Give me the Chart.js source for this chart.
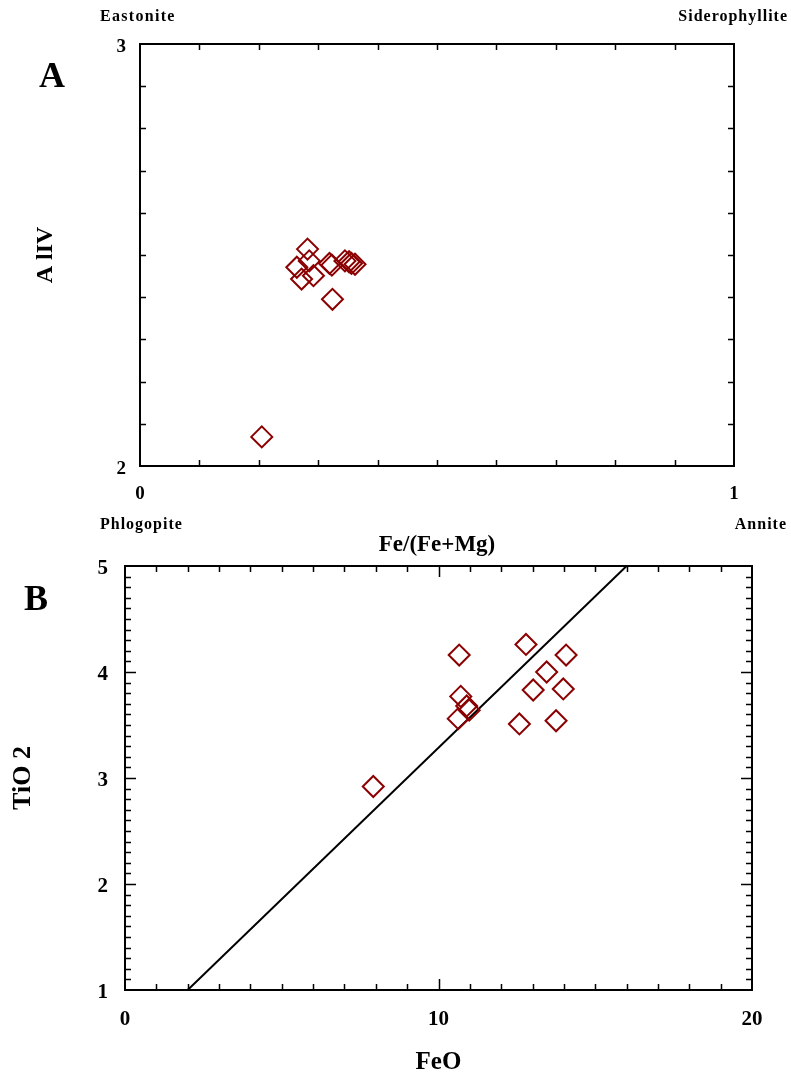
<!DOCTYPE html>
<html>
<head>
<meta charset="utf-8">
<script src="https://cdn.jsdelivr.net/npm/chart.js@4.4.0/dist/chart.umd.min.js"></script>
<style>
  body { margin: 0; background: #fff; }
  #wrap { position: relative; width: 791px; height: 1081px; }
  canvas { position: absolute; left: 0; top: 0; }
</style>
</head>
<body>
<div id="wrap">
  <canvas id="chartA" width="791" height="1081"></canvas>
  <canvas id="chartB" width="791" height="1081"></canvas>
</div>
<script>
// panel A: Fe/(Fe+Mg) vs Al IV
const feRatio = [0.282, 0.285, 0.264, 0.272, 0.292, 0.319, 0.323, 0.345, 0.352, 0.356, 0.362, 0.324, 0.205]
const alIV    = [2.514, 2.486, 2.471, 2.443, 2.451, 2.480, 2.476, 2.486, 2.484, 2.480, 2.478, 2.395, 2.069]
const aTicksX = [0.1, 0.2, 0.3, 0.4, 0.5, 0.6, 0.7, 0.8, 0.9]
const aTicksY = [2.1, 2.2, 2.3, 2.4, 2.5, 2.6, 2.7, 2.8, 2.9]

// panel B: FeO vs TiO2
const feo  = [10.66, 12.79, 14.07, 13.45, 13.02, 13.98, 10.71, 10.90, 10.98, 10.63, 12.58, 13.75, 7.92]
const tio2 = [4.16, 4.26, 4.16, 4.00, 3.83, 3.84, 3.77, 3.68, 3.64, 3.56, 3.51, 3.54, 2.92]
const lineFeo  = [2, 16]
const lineTio2 = [1, 5]
const bTicksX = [1, 2, 3, 4, 5, 6, 7, 8, 9, 10, 11, 12, 13, 14, 15, 16, 17, 18, 19]
const bMajorY = [2, 3, 4]
const bTicksY = []
for (let i = 11; i < 50; i++) bTicksY.push(i / 10)

const serif = '"Liberation Serif", "Times New Roman", serif'
const red = '#8b0000'

const framePlugin = {
    id: 'frame',
    afterDraw(chart, args, opts) {
        const ctx = chart.ctx
        const a = chart.chartArea
        const xs = chart.scales.x
        const ys = chart.scales.y
        ctx.save()
        ctx.strokeStyle = '#000'
        ctx.lineWidth = 2
        ctx.strokeRect(a.left, a.top, a.right - a.left, a.bottom - a.top)
        ctx.lineWidth = 1.5
        ctx.beginPath()
        opts.xTicks.forEach(v => {
            const px = Math.round(xs.getPixelForValue(v)) + 0.5
            const len = opts.xMajor.includes(v) ? opts.majorLen : opts.minorLen
            ctx.moveTo(px, a.bottom); ctx.lineTo(px, a.bottom - len)
            ctx.moveTo(px, a.top); ctx.lineTo(px, a.top + len)
        })
        opts.yTicks.forEach(v => {
            const py = Math.round(ys.getPixelForValue(v)) + 0.5
            const len = opts.yMajor.some(m => Math.abs(m - v) < 1e-6) ? opts.majorLen : opts.minorLen
            ctx.moveTo(a.left, py); ctx.lineTo(a.left + len, py)
            ctx.moveTo(a.right, py); ctx.lineTo(a.right - len, py)
        })
        ctx.stroke()
        ctx.fillStyle = '#000'
        ctx.textBaseline = 'middle'
        opts.labels.forEach(l => {
            ctx.font = 'bold ' + l.size + 'px ' + serif
            ctx.letterSpacing = (l.spacing || 0) + 'px'
            ctx.textAlign = l.align
            ctx.fillText(l.text, l.x, l.y)
        })
        ctx.restore()
    }
}

const makeAxis = (min, max, step, size, pad, offset, title, titleSize) => ({
    min: min,
    max: max,
    grid: { display: false, drawTicks: false },
    border: { display: false },
    ticks: {
        stepSize: step,
        color: '#000',
        padding: pad,
        labelOffset: offset,
        font: { family: serif, weight: 'bold', size: size }
    },
    title: {
        display: true,
        text: title,
        color: '#000',
        padding: 0,
        font: { family: serif, weight: 'bold', size: titleSize, lineHeight: 1.2 }
    }
})

// chart A
const axisAX = makeAxis(0, 1, 1, 19, 17, 0, 'Fe/(Fe+Mg)', 23)
axisAX.afterFit = s => { s.height = 92.8 }
const axisAY = makeAxis(2, 3, 1, 19, 14, 3, 'A lIV', 24)
axisAY.afterFit = s => { s.width = 108.4 }

new Chart(document.getElementById('chartA'), {
    type: 'scatter',
    data: {
        datasets: [{
            data: feRatio.map((v, i) => ({ x: v, y: alIV[i] })),
            pointStyle: 'rectRot',
            pointRadius: 10.5,
            borderColor: red,
            borderWidth: 2,
            backgroundColor: 'rgba(0,0,0,0)'
        }]
    },
    options: {
        responsive: false,
        animation: false,
        layout: { padding: { left: 31.6, top: 44, right: 57, bottom: 522.2 } },
        scales: { x: axisAX, y: axisAY },
        plugins: {
            legend: { display: false },
            tooltip: { enabled: false },
            frame: {
                xTicks: aTicksX, xMajor: [], yTicks: aTicksY, yMajor: [],
                minorLen: 6, majorLen: 6,
                labels: [
                    { text: 'Eastonite', x: 100, y: 17, size: 16, spacing: 1.3, align: 'left' },
                    { text: 'Siderophyllite', x: 788, y: 17, size: 16, spacing: 1, align: 'right' },
                    { text: 'Phlogopite', x: 100, y: 525, size: 16, spacing: 1, align: 'left' },
                    { text: 'Annite', x: 787, y: 525, size: 16, spacing: 1, align: 'right' },
                    { text: 'A', x: 52, y: 78, size: 36, align: 'center' }
                ]
            }
        }
    },
    plugins: [framePlugin]
})

// chart B
const axisBX = makeAxis(0, 20, 10, 21, 17, 0, 'FeO', 25)
axisBX.afterFit = s => { s.height = 88 }
const axisBY = makeAxis(1, 5, 1, 21, 17, 3, 'TiO 2', 26)
axisBY.afterFit = s => { s.width = 117.6 }

new Chart(document.getElementById('chartB'), {
    type: 'scatter',
    data: {
        datasets: [
            {
                data: feo.map((v, i) => ({ x: v, y: tio2[i] })),
                pointStyle: 'rectRot',
                pointRadius: 10.5,
                borderColor: red,
                borderWidth: 2,
                backgroundColor: 'rgba(0,0,0,0)'
            },
            {
                type: 'line',
                data: lineFeo.map((v, i) => ({ x: v, y: lineTio2[i] })),
                borderColor: '#000',
                borderWidth: 2,
                pointRadius: 0,
                fill: false
            }
        ]
    },
    options: {
        responsive: false,
        animation: false,
        layout: { padding: { left: 7.4, top: 566, right: 39, bottom: 3 } },
        scales: { x: axisBX, y: axisBY },
        plugins: {
            legend: { display: false },
            tooltip: { enabled: false },
            frame: {
                xTicks: bTicksX, xMajor: [10], yTicks: bTicksY, yMajor: bMajorY,
                minorLen: 6, majorLen: 11,
                labels: [
                    { text: 'B', x: 36, y: 601, size: 36, align: 'center' }
                ]
            }
        }
    },
    plugins: [framePlugin]
})
</script>
</body>
</html>
